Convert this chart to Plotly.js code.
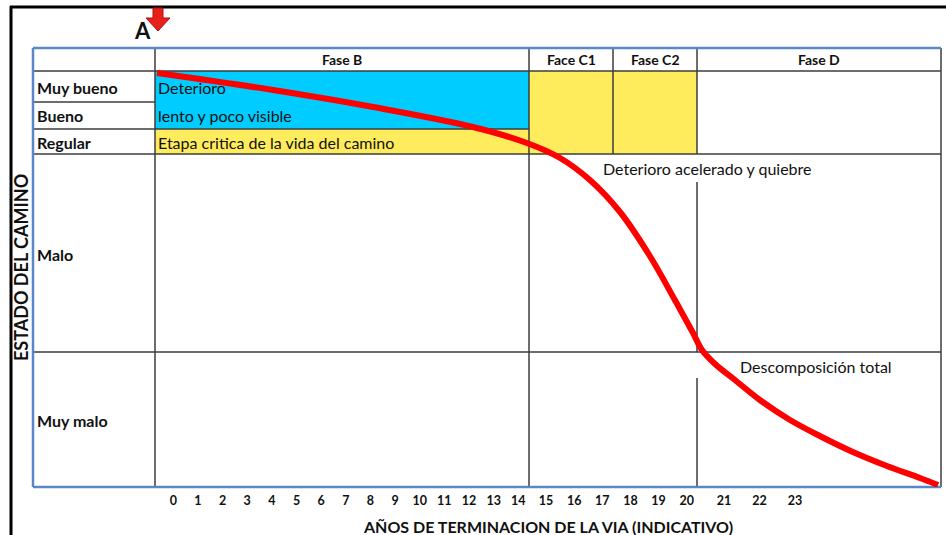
<!DOCTYPE html>
<html>
<head>
<meta charset="utf-8">
<script src="https://cdn.plot.ly/plotly-3.0.1.min.js"></script>
<style>html,body{margin:0;padding:0;background:#fff;}#chart{width:946px;height:535px;}</style>
</head>
<body>
<div id="chart"></div>
<script>
// ---------- DATA ----------
const yearTicks = [0,1,2,3,4,5,6,7,8,9,10,11,12,13,14,15,16,17,18,19,20,21,22,23];
const phaseLabels = ["Fase B", "Face C1", "Fase C2", "Fase D"];
const conditionLabels = ["Muy bueno", "Bueno", "Regular", "Malo", "Muy malo"];
const phaseBNotes = ["Deterioro", "lento y poco visible", "Etapa critica de la vida del camino"];
const stageNotes = ["Deterioro acelerado y quiebre", "Descomposición total"];
// deterioration curve: years vs. road condition level (height above the "Muy malo" floor)
const curveYears = [-0.66, 4.05, 8.11, 12.16, 14.31, 15.50, 16.56, 17.63, 18.69, 19.58, 20.17, 20.41, 20.76, 21.31, 22.01, 22.86, 23.70, 24.63, 25.59, 26.52, 27.03];
const curveLevel = [414, 397, 380, 360, 344, 329, 307, 275, 231, 187, 154, 137, 123, 107, 87, 67, 51, 35, 21, 9, 2];

// ---------- LAYOUT GEOMETRY ----------
const L = 33, R = 941, T = 48, B = 487;           // table box (page px)
const W = R - L, H = B - T;
// the year axis of the original is not uniform: anchor years and their axis positions
const scaleYears = [0, 14, 15, 20, 21, 23];
const scalePos   = [173.3, 518.3, 546, 686.7, 724, 795];
function xpos(yr) {
  let i = 0;
  if (yr <= scaleYears[0]) i = 0;
  else if (yr >= scaleYears[scaleYears.length-1]) i = scaleYears.length - 2;
  else { while (yr > scaleYears[i+1]) i++; }
  const t = (yr - scaleYears[i]) / (scaleYears[i+1] - scaleYears[i]);
  return scalePos[i] + t * (scalePos[i+1] - scalePos[i]);
}
const xp = px => (px - L) / W;
const yp = py => (B - py) / H;

const GRAY = '#3c3c3c', BLUE = '#5a87c8', CYAN = '#00CCFF', YEL = '#FFEC5C';
const cB = 155, cC1 = 529, cC2 = 613, cD = 697;     // column borders
const rH = 71, r1 = 102, r2 = 129, r3 = 154, r4 = 352; // row borders

function rect(x0, y0, x1, y1, fill) {
  return {type:'rect', xref:'paper', yref:'paper', layer:'below',
    x0:xp(x0), x1:xp(x1), y0:yp(y0), y1:yp(y1), fillcolor:fill, line:{width:0}};
}
function seg(x0, y0, x1, y1, color, w) {
  return {type:'line', xref:'paper', yref:'paper', layer:'below',
    x0:xp(x0), x1:xp(x1), y0:yp(y0), y1:yp(y1), line:{color:color, width:w}};
}
function pathP(pts) {
  return 'M' + pts.map(p => xp(p[0]).toFixed(5) + ',' + yp(p[1]).toFixed(5)).join(' L') + ' Z';
}

const shapes = [
  rect(cB, rH, cC1, r2, CYAN),
  rect(cB, r2, cC1, r3, YEL),
  rect(cC1, rH, cD, r3, YEL),
  // inner grid
  seg(L, rH, R, rH, GRAY, 1.5),
  seg(L, r1, cB, r1, GRAY, 1.5),
  seg(L, r2, cC1, r2, GRAY, 1.5),
  seg(L, r3, R, r3, GRAY, 1.5),
  seg(L, r4, R, r4, GRAY, 1.5),
  seg(cB, T, cB, B, GRAY, 1.5),
  seg(cC1, T, cC1, B, GRAY, 1.5),
  seg(cC2, T, cC2, r3, GRAY, 1.5),
  seg(cD, T, cD, r3, GRAY, 1.5),
  seg(cD, 182, cD, r4, GRAY, 1.5),
  seg(cD, 378, cD, B, GRAY, 1.5),
  // outer table border
  seg(R, T, R, B, GRAY, 1.5),
  seg(L, T, R, T, BLUE, 2.5),
  seg(L, T, L, B, BLUE, 2.5),
  seg(L, B, R, B, BLUE, 2.5),
  // page frame
  seg(10, 7, 946, 7, '#000', 3),
  seg(11, 6, 11, 535, '#000', 3),
  // red arrow marker
  {type:'path', xref:'paper', yref:'paper', layer:'above',
   path: pathP([[153,8],[163,8],[163,18],[170,18],[158,31],[146,18],[153,18]]),
   fillcolor:'#E8201A', line:{color:'#B01010', width:1}}
];

const FONT = 'Lato, "Open Sans", sans-serif';
function ann(text, x, y, size, bold, anchor, extra) {
  return Object.assign({xref:'paper', yref:'paper', x:xp(x), y:yp(y), showarrow:false,
    xanchor:anchor || 'left', yanchor:'middle',
    text: bold ? '<b>' + text + '</b>' : text,
    font:{family:FONT, size:size, color:'#111'}}, extra || {});
}
const headerCenters = [(cB+cC1)/2, (cC1+cC2)/2, (cC2+cD)/2, (cD+R)/2];
const rowCenters = [87, 116, 142, 254, 420];
const annotations = [];
phaseLabels.forEach((t, i) => annotations.push(ann(t, headerCenters[i], 60, 14, true, 'center')));
conditionLabels.forEach((t, i) => annotations.push(ann(t, 35, rowCenters[i], 16, true, 'left')));
phaseBNotes.forEach((t, i) => annotations.push(ann(t, 156, rowCenters[i], 16, false, 'left')));
annotations.push(ann(stageNotes[0], 601, 169, 16, false, 'left'));
annotations.push(ann(stageNotes[1], 738, 366, 16, false, 'left'));
annotations.push(ann('AÑOS DE TERMINACION DE LA VIA (INDICATIVO)', 548, 526, 16, true, 'center'));
annotations.push(ann('ESTADO DEL CAMINO', 21, 268, 18, true, 'center', {textangle:-90}));
annotations.push(ann('A', 142, 31, 22, true, 'center'));

const trace = {
  x: curveYears.map(xpos), y: curveLevel, type:'scatter', mode:'lines',
  line:{color:'#FF0000', width:6, shape:'spline', smoothing:1},
  hoverinfo:'skip', showlegend:false, cliponaxis:false
};

const layout = {
  width:946, height:535,
  margin:{l:L, r:946-R, t:T, b:535-B, pad:0},
  paper_bgcolor:'#fff', plot_bgcolor:'rgba(0,0,0,0)',
  showlegend:false,
  xaxis:{range:[L, R], showgrid:false, zeroline:false, showline:false, ticks:'',
    ticklabelstandoff:4,
    tickmode:'array', tickvals: yearTicks.map(xpos), ticktext: yearTicks.map(String),
    tickfont:{family:FONT, size:12.5, color:'#111', weight:'bold'}, fixedrange:true},
  yaxis:{range:[0, H], visible:false, fixedrange:true},
  shapes: shapes,
  annotations: annotations
};
Plotly.newPlot('chart', [trace], layout, {staticPlot:true, displayModeBar:false});
</script>
</body>
</html>
